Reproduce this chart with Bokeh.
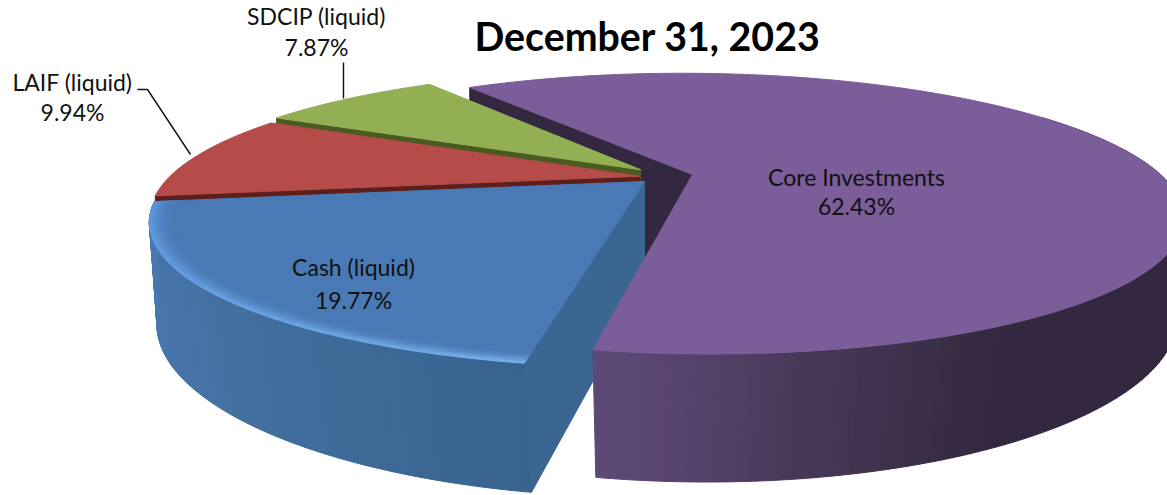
import math
from bokeh.embed import file_html
from bokeh.models import Range1d
from bokeh.plotting import figure
from bokeh.resources import INLINE
from bokeh.core.properties import value

# Portfolio shares, drawn clockwise starting with the core holdings
categories = ["Core Investments", "Cash (liquid)", "LAIF (liquid)", "SDCIP (liquid)"]
shares = [62.43, 19.77, 9.94, 7.87]
chart_title = "December 31, 2023"

# Face colours of each slice
top_colors = ["#7b5d99", "#4a7ab5", "#b54c49", "#93af54"]
cut_colors = ["#33283f", "#3b6692", "#5c1f1c", "#4a5a20"]
rim_colors = [[(70, "#7b5d99"), (95, "#54406b"), (140, "#5e4779"), (168, "#7b5d99"), (190, "#a587c8"), (200, "#7b5d99")],
              [(190, "#76aee6"), (215, "#68a2e2"), (262, "#5a94da")],
              [(0, "#b54c49"), (360, "#b54c49")],
              [(0, "#93af54"), (360, "#93af54")]]
wall_colors = [[(60, "#33283f"), (152, "#33283f"), (172, "#473858"), (181, "#55426b"), (190, "#5d4975")],
               [(190, "#38638f"), (225, "#42709f"), (245, "#4876ac"), (262, "#4a7ab2")]]

# Perspective camera for the disc, in screen pixels
CX, CY = 644.0, 181.0
SX, SZ, PERSP = 475.0, 133.4, 0.283
DROP, DROP_POW, CONVERGE = 106.5, 0.59, 0.214
FIRST_ANGLE = 325.8
# Ground-plane displacement of each slice from the pie centre
offsets = [(0.1026, 0.0533), (0.0, 0.0), (-0.01, 0.04), (-0.008, 0.09)]


def project(x, z, low=False):
    w = 1 + PERSP * z
    u, v = SX * x / w, -SZ * z / w
    if low:
        u *= 1 - CONVERGE * max(0.0, 1 - w)
        v += DROP / w ** DROP_POW
    return CX + u, CY + v


def disc_point(theta, radius, off, low=False):
    t = math.radians(theta)
    return project(off[0] + radius * math.sin(t), off[1] + radius * math.cos(t), low)


def hex_rgb(c):
    return tuple(int(c[i:i + 2], 16) for i in (1, 3, 5))


def mix(c0, c1, f):
    r0, r1 = hex_rgb(c0), hex_rgb(c1)
    return "#%02x%02x%02x" % tuple(round(a + (b - a) * f) for a, b in zip(r0, r1))


def ramp(stops, theta):
    theta = theta % 360
    if theta <= stops[0][0]:
        return stops[0][1]
    for (a0, c0), (a1, c1) in zip(stops, stops[1:]):
        if theta <= a1:
            return mix(c0, c1, (theta - a0) / (a1 - a0))
    return stops[-1][1]


p = figure(width=1167, height=495, output_backend="svg", toolbar_location=None,
           x_range=Range1d(0, 1167), y_range=Range1d(495, 0), min_border=0)
p.axis.visible = False
p.grid.visible = False
p.outline_line_color = None


def draw_polys(polys, colors):
    p.patches([[q[0] for q in poly] for poly in polys],
              [[q[1] for q in poly] for poly in polys],
              fill_color=colors, line_color=colors, line_width=1.0)


# Angular span of each slice derived from its share
spans = []
start = FIRST_ANGLE
for s in shares:
    sweep = s / sum(shares) * 360
    spans.append((start, start + sweep))
    start += sweep


def arc_angles(a, b, step=1.5):
    n = max(2, int((b - a) / step))
    return [a + (b - a) * i / n for i in range(n + 1)]


def start_wall(i):
    a = spans[i][0]
    off = offsets[i]
    poly = [disc_point(a, 0, off), disc_point(a, 1, off), disc_point(a, 1, off, True), disc_point(a, 0, off, True)]
    draw_polys([poly], [cut_colors[i]])


def outer_wall(i, a, b):
    off = offsets[i]
    ang = arc_angles(a, b, 1.0)
    polys, cols = [], []
    for t0, t1 in zip(ang, ang[1:]):
        polys.append([disc_point(t0, 1, off), disc_point(t1, 1, off),
                      disc_point(t1, 1, off, True), disc_point(t0, 1, off, True)])
        cols.append(ramp(wall_colors[i], (t0 + t1) / 2))
    draw_polys(polys, cols)


def top_face(i):
    a, b = spans[i]
    off = offsets[i]
    ang = arc_angles(a, b, 0.75)
    poly = [disc_point(a, 0, off)] + [disc_point(t, 1, off) for t in ang]
    draw_polys([poly], [top_colors[i]])
    if rim_colors[i][0][1] == rim_colors[i][-1][1]:
        return
    # Soft bevel along the outer edge of the face
    n = 8
    ang = arc_angles(a, b, 2.0)
    polys, cols = [], []
    for lev in range(n):
        r0, r1 = 0.955 + 0.045 * lev / n, 0.955 + 0.045 * (lev + 1) / n
        f = ((lev + 1) / n) ** 2.0
        for t0, t1 in zip(ang, ang[1:]):
            polys.append([disc_point(t0, r0, off), disc_point(t1, r0, off),
                          disc_point(t1, r1, off), disc_point(t0, r1, off)])
            cols.append(mix(top_colors[i], ramp(rim_colors[i], (t0 + t1) / 2), f))
    draw_polys(polys, cols)


# Painter's order: back wall of the core slice, small slices, cash, then the core slice
start_wall(0)
for i in (3, 2):
    start_wall(i)
    top_face(i)
start_wall(1)
outer_wall(1, spans[1][0], spans[1][1])
top_face(1)
outer_wall(0, 360 + 60, spans[0][1])
top_face(0)

# Leader lines of the two outside labels
p.line([137, 147, 190], [89, 89, 154], line_color="#111111", line_width=1.4)
p.line([343, 343], [62, 98], line_color="#111111", line_width=1.4)

# Labels: name above percentage
label_pos = [(856, 176, 205), (353, 266, 299), (72, 81, 111), (316, 15, 46)]
FONT = value("Lato")
for name, share, (x, y0, y1) in zip(categories, shares, label_pos):
    p.text([x], [y0], text=[name], text_align="center", text_baseline="middle",
           text_font=FONT, text_font_size="23px", text_color="#111111")
    p.text([x], [y1], text=[f"{share:.2f}%"], text_align="center", text_baseline="middle",
           text_font=FONT, text_font_size="23px", text_color="#111111")

p.text([647], [35], text=[chart_title], text_align="center", text_baseline="middle",
       text_font=FONT, text_font_style="bold", text_font_size="39.3px", text_color="#000000")

open("out.html", "w").write(file_html(p, INLINE))
